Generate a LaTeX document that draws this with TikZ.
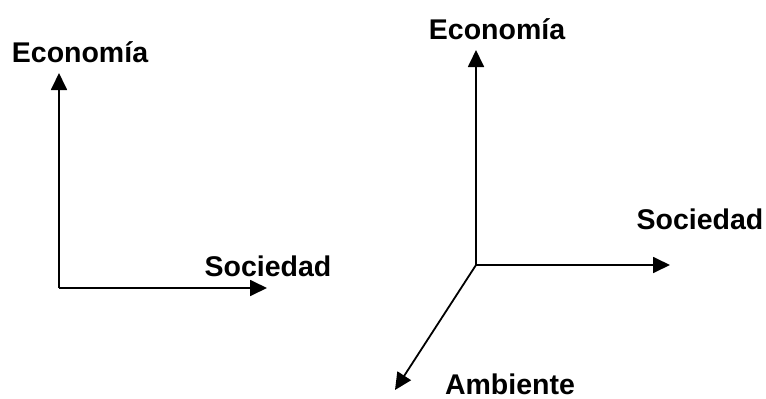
\documentclass[tikz,border=0pt]{standalone}
\usepackage{fontspec}
\setmainfont{Liberation Sans}
\usetikzlibrary{arrows.meta}
\begin{document}
\begin{tikzpicture}[x=1pt,y=-1pt,
  axis/.style={line width=1.8pt,-{Triangle[length=17pt,width=16pt]}},
  lbl/.style={font=\fontsize{28.5}{32}\selectfont\bfseries,inner sep=0pt}]
\useasboundingbox (0,0) rectangle (766,399);
% left diagram
\coordinate (o1) at (59,288);
\coordinate (e1) at (59,73);
\coordinate (s1) at (267,288);
\draw[axis] (o1) -- (e1);
\draw[axis] (o1) -- (s1);
\node[lbl] (le1) at (80,52) {Economía};
\node[lbl] (ls1) at (268,266) {Sociedad};
% right diagram
\coordinate (o2) at (476,265);
\coordinate (e2) at (476,50);
\coordinate (s2) at (670,265);
\coordinate (a2) at (395,390);
\draw[axis] (o2) -- (e2);
\draw[axis] (o2) -- (s2);
\draw[axis] (o2) -- (a2);
\node[lbl] (le2) at (497,29) {Economía};
\node[lbl] (ls2) at (700,219) {Sociedad};
\node[lbl] (la2) at (510,384) {Ambiente};
\end{tikzpicture}
\end{document}
